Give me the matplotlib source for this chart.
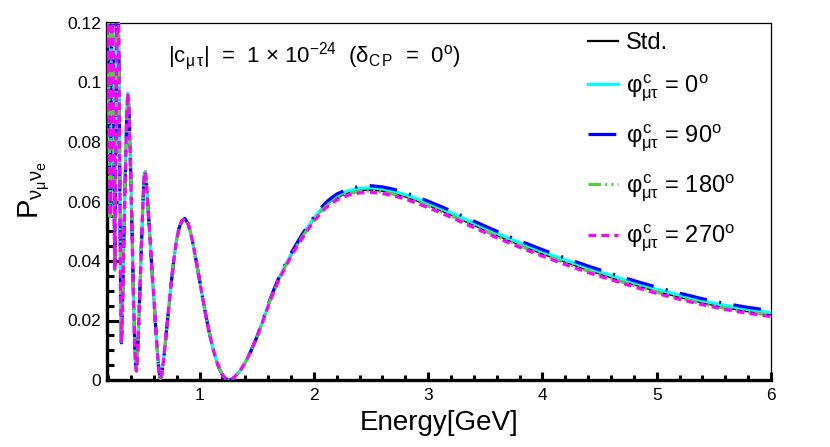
import matplotlib
matplotlib.use('Agg')
import matplotlib.pyplot as plt
from matplotlib.ticker import MultipleLocator, FuncFormatter

plt.rcParams['font.family'] = ['Liberation Sans', 'DejaVu Sans']
plt.rcParams['mathtext.fontset'] = 'custom'
plt.rcParams['mathtext.rm'] = 'Liberation Sans'
plt.rcParams['mathtext.it'] = 'Liberation Sans'
plt.rcParams['mathtext.bf'] = 'Liberation Sans:bold'
plt.rcParams['lines.scale_dashes'] = False

# low energy part: all five curves lie on top of each other
e_low = [0.190, 0.195, 0.201, 0.206, 0.211, 0.2165, 0.222, 0.229, 0.236, 0.243,
         0.250, 0.258, 0.266, 0.275, 0.285, 0.294, 0.302, 0.309, 0.316, 0.322,
         0.329, 0.342, 0.354, 0.363, 0.371, 0.378, 0.387, 0.397, 0.408, 0.420,
         0.432, 0.440, 0.447, 0.455, 0.468, 0.483, 0.498, 0.510, 0.518, 0.526,
         0.534, 0.545, 0.566, 0.585, 0.601, 0.617, 0.632, 0.645, 0.657, 0.670,
         0.690, 0.709, 0.730, 0.752, 0.775, 0.796, 0.820, 0.845, 0.870, 0.900,
         0.925, 0.950, 0.975, 1.000, 1.025, 1.050, 1.075, 1.100, 1.125, 1.150,
         1.175, 1.200, 1.225, 1.245, 1.264, 1.285, 1.300, 1.350, 1.400, 1.450,
         1.500]
p_low = [0.090, 0.125, 0.140, 0.110, 0.075, 0.055, 0.075, 0.115, 0.140, 0.115,
         0.075, 0.037, 0.070, 0.115, 0.140, 0.110, 0.068, 0.030, 0.0125, 0.018,
         0.032, 0.055, 0.075, 0.089, 0.0964, 0.094, 0.085, 0.070, 0.052, 0.031,
         0.013, 0.005, 0.003, 0.007, 0.019, 0.036, 0.053, 0.064, 0.069, 0.070,
         0.067, 0.060, 0.048, 0.036, 0.027, 0.017, 0.009, 0.003, 0.0005, 0.002,
         0.0085, 0.0160, 0.0240, 0.0325, 0.0405, 0.0465, 0.0510, 0.0535, 0.0543, 0.0525,
         0.0490, 0.0443, 0.0390, 0.0335, 0.0280, 0.0227, 0.0178, 0.0134, 0.0095, 0.0062,
         0.0036, 0.0017, 0.0005, 0.0001, 0.0, 0.0002, 0.0008, 0.0028, 0.0059, 0.0098,
         0.0143]

# high energy part: the curves split slightly
e_high = [1.55, 1.60, 1.65, 1.70, 1.75, 1.80, 1.85, 1.90, 1.95, 2.00,
          2.05, 2.10, 2.15, 2.20, 2.30, 2.40, 2.50, 2.60, 2.70, 2.80,
          2.90, 3.00, 3.20, 3.40, 3.60, 3.80, 4.00, 4.20, 4.40, 4.60,
          4.80, 5.00, 5.20, 5.40, 5.60, 5.80, 6.00]
p_std = [0.0195, 0.0250, 0.0300, 0.0345, 0.0384, 0.0420, 0.0453, 0.0484, 0.0513, 0.0540,
         0.0564, 0.0585, 0.0601, 0.0614, 0.0630, 0.0638, 0.0640, 0.0636, 0.0628, 0.0617,
         0.0603, 0.0588, 0.0556, 0.0521, 0.0487, 0.0455, 0.0425, 0.0397, 0.0370, 0.0345,
         0.0321, 0.0299, 0.0279, 0.0260, 0.0244, 0.0231, 0.0220]
p_0 = [0.0196, 0.0251, 0.0301, 0.0346, 0.0386, 0.0422, 0.0455, 0.0487, 0.0516, 0.0544,
       0.0568, 0.0589, 0.0605, 0.0619, 0.0636, 0.0644, 0.0646, 0.0642, 0.0634, 0.0623,
       0.0609, 0.0594, 0.0562, 0.0527, 0.0493, 0.0461, 0.0431, 0.0403, 0.0376, 0.0351,
       0.0327, 0.0305, 0.0285, 0.0266, 0.0250, 0.0237, 0.0226]
p_90 = [0.0198, 0.0254, 0.0304, 0.0350, 0.0389, 0.0426, 0.0459, 0.0491, 0.0520, 0.0548,
        0.0573, 0.0595, 0.0611, 0.0625, 0.0642, 0.0651, 0.0653, 0.0649, 0.0641, 0.0630,
        0.0616, 0.0601, 0.0569, 0.0534, 0.0500, 0.0468, 0.0438, 0.0410, 0.0383, 0.0358,
        0.0334, 0.0312, 0.0292, 0.0273, 0.0257, 0.0244, 0.0233]
p_180 = [0.0194, 0.0249, 0.0299, 0.0344, 0.0382, 0.0418, 0.0451, 0.0482, 0.0510, 0.0537,
         0.0561, 0.0582, 0.0597, 0.0610, 0.0626, 0.0634, 0.0636, 0.0632, 0.0624, 0.0613,
         0.0599, 0.0584, 0.0552, 0.0517, 0.0483, 0.0451, 0.0421, 0.0393, 0.0366, 0.0341,
         0.0317, 0.0295, 0.0275, 0.0256, 0.0240, 0.0228, 0.0217]
p_270 = [0.0193, 0.0247, 0.0297, 0.0341, 0.0379, 0.0414, 0.0447, 0.0477, 0.0506, 0.0533,
         0.0556, 0.0577, 0.0592, 0.0605, 0.0621, 0.0629, 0.0631, 0.0627, 0.0619, 0.0608,
         0.0594, 0.0579, 0.0547, 0.0512, 0.0478, 0.0446, 0.0416, 0.0388, 0.0361, 0.0337,
         0.0313, 0.0291, 0.0271, 0.0253, 0.0237, 0.0224, 0.0213]

labels = ['Std.',
          r'$φ^{c}_{μτ}$ = 0$^{o}$',
          r'$φ^{c}_{μτ}$ = 90$^{o}$',
          r'$φ^{c}_{μτ}$ = 180$^{o}$',
          r'$φ^{c}_{μτ}$ = 270$^{o}$']

fig = plt.figure(figsize=(8.3, 4.47), dpi=100)
ax = fig.add_axes([107/830, 1 - 380/447, 664/830, 357/447])

energy = e_low + e_high
ax.plot(energy, p_low + p_std, color='black', lw=1.6, label=labels[0], zorder=2)
ax.plot(energy, p_low + p_0, color='#00ffff', lw=2.3, label=labels[1], zorder=3)
ax.plot(energy, p_low + p_90, color='#0000ff', lw=2.3, dashes=(20, 9, 1.5, 9),
        label=labels[2], zorder=4)
ax.plot(energy, p_low + p_180, color='#55cc44', lw=2.3,
        dashes=(9, 3, 1.5, 3, 1.5, 3, 1.5, 3), label=labels[3], zorder=5)
ax.plot(energy, p_low + p_270, color='#ff00ff', lw=2.3, dashes=(5.5, 3.8),
        label=labels[4], zorder=6)

ax.set_xlim(0.19, 6)
ax.set_ylim(0, 0.12)
ax.xaxis.set_major_locator(MultipleLocator(1))
ax.xaxis.set_minor_locator(MultipleLocator(0.2))
ax.yaxis.set_major_locator(MultipleLocator(0.02))
ax.yaxis.set_minor_locator(MultipleLocator(0.005))
ax.yaxis.set_major_formatter(FuncFormatter(lambda v, p: '%g' % round(v, 3)))
ax.tick_params(axis='both', which='both', direction='in', labelsize=12.5, width=2.2)
ax.tick_params(axis='x', which='major', length=6, pad=6)
ax.tick_params(axis='x', which='minor', length=3.3)
ax.tick_params(axis='y', which='major', length=8.6, pad=4)
ax.tick_params(axis='y', which='minor', length=4.7)

for side in ['left', 'bottom']:
    ax.spines[side].set_linewidth(2.4)
for side in ['top', 'right']:
    ax.spines[side].set_linewidth(0.9)

ax.set_xlabel('Energy[GeV]', fontsize=20, labelpad=5)
ax.set_ylabel(r'$P_{ν_{μ}ν_{e}}$', fontsize=21)
ax.yaxis.set_label_coords(-0.083, 0.532)

ax.text(0.092, 0.891,
        r'|c$_{μ\,τ}$|  =  1 $\times$ 10$^{-24}$  (δ$_{C\,P}$  =  0$^{o}$)',
        transform=ax.transAxes, fontsize=16, va='baseline')

ax.legend(loc='upper left', bbox_to_anchor=(0.724, 0.975), frameon=False,
          fontsize=17, handlelength=1.3, handletextpad=0.3, labelspacing=0.8,
          borderpad=0, borderaxespad=0)

fig.savefig('out.png', dpi=100)
